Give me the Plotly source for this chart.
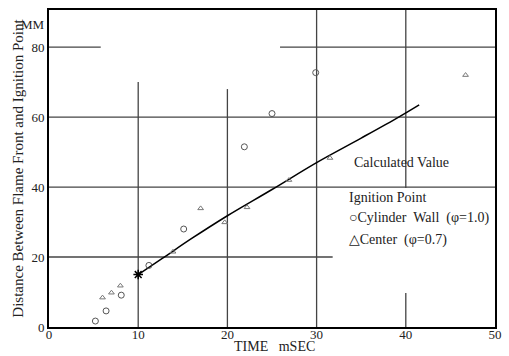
import plotly.graph_objects as go

# Data
wall_t = [5.2, 6.4, 8.1, 11.2, 15.1, 21.9, 25.0, 29.9]
wall_d = [1.7, 4.6, 9.1, 17.6, 28.0, 51.5, 61.0, 72.7]

center_t = [6.0, 7.0, 8.0, 13.9, 17.0, 19.7, 22.2, 26.9, 31.5, 46.7]
center_d = [8.4, 9.8, 11.8, 21.5, 33.9, 29.9, 34.2, 42.0, 48.3, 72.0]

calc_t = [10.0, 12.7, 16.0, 20.0, 25.0, 30.0, 35.0, 39.2, 41.5]
calc_d = [15.0, 19.6, 25.3, 31.8, 39.3, 47.0, 54.0, 60.0, 63.5]

start_t = [10.0]
start_d = [15.0]

x_ticks = [0, 10, 20, 30, 40, 50]
y_ticks = [0, 20, 40, 60, 80]

# grid segments (styling of the scanned grid): (x0, x1, y0, y1)
grid_segments = [
    (0, 5.8, 80, 80), (25.9, 50, 80, 80),
    (0, 50, 60, 60), (0, 50, 40, 40), (0, 31.8, 20, 20),
    (10, 10, 0, 70), (20, 20, 0, 68), (30, 30, 0, 90.6),
    (40, 40, 39.7, 90.6), (40, 40, 0, 9.7),
]

FONT = "'Times New Roman', 'Liberation Serif', 'DejaVu Serif', serif"
fig = go.Figure()

fig.add_trace(go.Scatter(x=calc_t, y=calc_d, mode="lines",
                         line=dict(color="black", width=1.5, shape="spline"),
                         showlegend=False))
fig.add_trace(go.Scatter(x=wall_t, y=wall_d, mode="markers",
                         marker=dict(symbol="circle-open", size=6,
                                     color="#555", line=dict(width=1)),
                         showlegend=False))
fig.add_trace(go.Scatter(x=center_t, y=center_d, mode="markers",
                         marker=dict(symbol="triangle-up-open", size=5,
                                     color="#777", line=dict(width=1)),
                         showlegend=False))
fig.add_trace(go.Scatter(x=start_t, y=start_d, mode="markers",
                         marker=dict(symbol="asterisk-open", size=8,
                                     color="black", line=dict(width=1.5)),
                         showlegend=False))

for x0, x1, y0, y1 in grid_segments:
    fig.add_shape(type="line", xref="x", yref="y", x0=x0, x1=x1, y0=y0, y1=y1,
                  line=dict(color="#444", width=1.3), layer="below")

legend_texts = [
    ("Calculated Value", 34.0, 46.9),
    ("Ignition Point", 33.4, 36.9),
    ("\u25CBCylinder  Wall  (\u03C6=1.0)", 33.4, 31.1),
    ("\u25B3Center  (\u03C6=0.7)", 33.4, 24.9),
]
for txt, x, y in legend_texts:
    fig.add_annotation(x=x, y=y, xref="x", yref="y", text=txt, showarrow=False,
                       xanchor="left", yanchor="middle",
                       font=dict(family=FONT, size=14, color="#222"))

fig.add_annotation(xref="paper", yref="paper", x=-0.005, y=0.955,
                   xanchor="right", yanchor="middle", text="MM",
                   showarrow=False, font=dict(family=FONT, size=13, color="#222"))

# x-axis title as annotation (placed just under tick labels)
fig.add_annotation(xref="paper", yref="paper", x=0.505, y=0.0, yshift=-29,
                   xanchor="center", yanchor="bottom", text="TIME   mSEC",
                   showarrow=False, font=dict(family=FONT, size=14, color="#222"))

fig.update_layout(
    width=509, height=356,
    margin=dict(l=49, r=14, t=10, b=29),
    plot_bgcolor="white", paper_bgcolor="white",
    font=dict(family=FONT, size=14, color="#222"),
    xaxis=dict(range=[0, 50], tickvals=x_ticks, showgrid=False, zeroline=False,
               showline=True, linecolor="black", linewidth=1.5, mirror=True,
               ticks="", ticklen=0, automargin=False, ticklabelstandoff=-5,
               tickfont=dict(family=FONT, size=13)),
    yaxis=dict(range=[0, 90.6], tickvals=y_ticks, showgrid=False, zeroline=False,
               showline=True, linecolor="black", linewidth=2, mirror=True,
               ticks="", ticklen=0, automargin=False,
               tickfont=dict(family=FONT, size=13),
               title=dict(text="Distance Between Flame Front and Ignition Point",
                          standoff=4, font=dict(family=FONT, size=15))),
)

fig.write_html("out.html")
